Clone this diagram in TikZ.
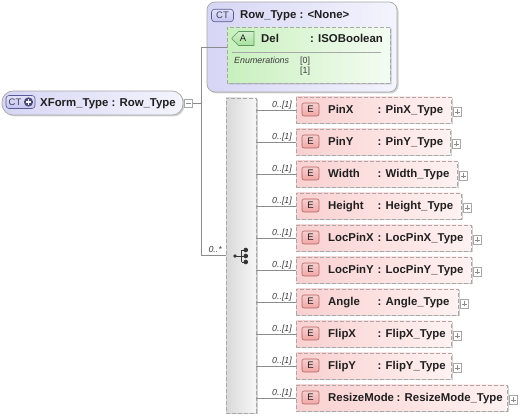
\documentclass[tikz,border=0pt]{standalone}
\usepackage{fontspec}
\setmainfont{Liberation Sans}
\usetikzlibrary{positioning,calc,shapes.misc,shadows}

\definecolor{linegray}{HTML}{8C8C8C}
\definecolor{boxgray}{HTML}{A8A8A8}
\definecolor{ctleft}{HTML}{D6D6F5}
\definecolor{ctright}{HTML}{F4F4FD}
\definecolor{attrleft}{HTML}{C8F0BE}
\definecolor{attrright}{HTML}{F4FCF2}
\definecolor{elemleft}{HTML}{FAD0D0}
\definecolor{elemright}{HTML}{FFF2F2}
\definecolor{ebadgefill}{HTML}{F0A6A6}
\definecolor{ebadgeline}{HTML}{B46464}
\definecolor{abadgefill}{HTML}{A6E09C}
\definecolor{abadgeline}{HTML}{5E985E}
\definecolor{ctbadgefill}{HTML}{C4C4EE}
\definecolor{ctbadgeline}{HTML}{5A5A96}
\definecolor{seqleft}{HTML}{D9D9D9}
\definecolor{seqright}{HTML}{F7F7F7}
\definecolor{textdark}{HTML}{202020}
\definecolor{multgray}{HTML}{3C3C3C}

\begin{document}
\begin{tikzpicture}[x=1pt,y=-1pt]
	% Configurable lengths
	\def\rowTop{110}
	\def\rowStep{32}
	\def\elemLeft{296}
	\def\forkX{201}

	% Styles
	\tikzstyle{shadowed}=[drop shadow={shadow xshift=1.5pt, shadow yshift=-1.5pt, fill=black, opacity=0.18}]
	\tikzstyle{ctbox}=[draw=boxgray, line width=0.7pt, rounded corners=8pt, left color=ctleft, right color=ctright, shadowed, inner sep=0pt]
	\tikzstyle{attrbox}=[draw=boxgray, dash pattern=on 4pt off 2pt, line width=0.7pt, chamfered rectangle, chamfered rectangle corners={north west, south west}, chamfered rectangle xsep=5pt, left color=attrleft, right color=attrright, shadowed, inner sep=0pt]
	\tikzstyle{elembox}=[draw=boxgray, dash pattern=on 4pt off 2pt, line width=0.7pt, left color=elemleft, right color=elemright, minimum height=26pt, shadowed, inner sep=0pt]
	\tikzstyle{seqbox}=[draw=boxgray, dash pattern=on 4pt off 2pt, line width=0.7pt, left color=seqleft, right color=seqright, shadowed, inner sep=0pt]
	\tikzstyle{ebadge}=[draw=ebadgeline, line width=0.6pt, rounded corners=2pt, top color=ebadgefill!55!white, bottom color=ebadgefill, minimum width=17pt, minimum height=13pt, inner sep=0pt, font={\fontsize{9.5}{11}\selectfont}, text=textdark]
	\tikzstyle{abadge}=[draw=abadgeline, line width=0.6pt, chamfered rectangle, chamfered rectangle corners={north west, south west}, chamfered rectangle xsep=4pt, top color=abadgefill!50!white, bottom color=abadgefill, minimum width=22pt, minimum height=14pt, inner sep=0pt, font={\fontsize{9.5}{11}\selectfont}, text=textdark]
	\tikzstyle{ctbadge}=[draw=ctbadgeline, line width=0.6pt, rounded corners=3pt, top color=ctbadgefill!50!white, bottom color=ctbadgefill, inner sep=0pt, font={\fontsize{9.5}{11}\selectfont}, text=ctbadgeline!70!black]
	\tikzstyle{btext}=[font={\fontsize{11.4}{13}\selectfont\bfseries}, inner sep=0pt, text=textdark]
	\tikzstyle{mult}=[font={\fontsize{8.8}{10}\selectfont\itshape}, inner sep=0pt, text=multgray]
	\tikzstyle{small}=[font={\fontsize{8.9}{10}\selectfont}, inner sep=0pt, text=multgray]
	\tikzstyle{iconbox}=[draw=boxgray, fill=white, line width=0.6pt, minimum size=8.5pt, inner sep=0pt]
	\tikzstyle{conn}=[draw=linegray, line width=0.7pt]

	\useasboundingbox (0,0) rectangle (520,419);

	% Parent type
	\node[ctbox, rounded corners=11pt, minimum width=181pt, minimum height=24pt] (xform) at (92.5,103) {};
	\node[ctbadge, minimum width=29pt, minimum height=13pt] (xformct) at (20.5,102) {};
	\node[anchor=west, inner sep=0pt, font={\fontsize{9.5}{11}\selectfont}, text=ctbadgeline!70!black] (xformctlabel) at (8.5,102) {CT};
	\fill[ctbadgeline!80!black] (28.5,102) circle[radius=4.6pt];
	\draw[white, line width=1.4pt] (25.8,102) -- (31.2,102) (28.5,99.3) -- (28.5,104.7);
	\node[btext, anchor=base west] (xformname) at (40,106.7) {XForm\_Type : Row\_Type};
	\node[iconbox] (minus) at (188.5,103.5) {};
	\draw[linegray, line width=0.6pt] ($(minus)+(-2.5,0)$) -- ($(minus)+(2.5,0)$);

	% Base type with attribute
	\node[ctbox, minimum width=190pt, minimum height=90pt] (rowtype) at (302,47) {};
	\node[ctbadge, minimum width=22pt, minimum height=12.5pt] (rowct) at (222.5,15.5) {CT};
	\node[btext, anchor=base west] (rowname) at (240,18.3) {Row\_Type : <None>};
	\node[attrbox, minimum width=163pt, minimum height=56pt] (attr) at (308.5,55) {};
	\node[abadge] (abadge) at (243,38.5) {A};
	\node[btext, anchor=base west] (attrname) at (261,43) {Del};
	\node[btext, anchor=base west] (attrtype) at (310,43) {: ISOBoolean};
	\draw[boxgray, line width=0.6pt] (232,52.7) -- (381,52.7);
	\node[small, anchor=base west] (enumlabel) at (234,63.3) {\itshape Enumerations};
	\node[small, anchor=base west] (enum0) at (300,63.3) {[0]};
	\node[small, anchor=base west] (enum1) at (300,73.3) {[1]};

	% Sequence
	\node[seqbox, minimum width=30pt, minimum height=315pt] (seq) at (241,255.5) {};
	\begin{scope}[shift={(seq.center)}, multgray!90!black]
		\fill (-6,0.5) circle[radius=1.8pt];
		\draw[line width=0.9pt] (-6,0.5) -- (0.7,0.5) (0.7,-5.5) -- (0.7,6.5);
		\foreach \dy in {-5.5,0.5,6.5} {
			\draw[line width=0.9pt] (0.7,\dy) -- (4.8,\dy);
			\fill (4.8,\dy) circle[radius=2.3pt];
		}
	\end{scope}

	% Connectors from the parent
	\coordinate (fork) at (\forkX,0);
	\draw[conn] (minus.east) -- (minus.east -| fork);
	\draw[conn] (rowtype.west -| fork) -- (attr.west |- rowtype.west);
	\draw[conn] (rowtype.west -| fork) -- (seq.west -| fork) -- (seq.west);
	\node[mult, anchor=base east] (seqmult) at (222,252.5) {0..*};

	% Elements
	\foreach \name/\boxw/\col [count=\i from 0] in {PinX/155/377.5, PinY/154/377.5, Width/161/377.5, Height/165/377.5, LocPinX/175/377.5, LocPinY/175/377.5, Angle/162/377.5, FlipX/155/377.5, FlipY/155/377.5, ResizeMode/211/396.5} {
		\pgfmathsetmacro\rowY{\rowTop+\rowStep*\i}
		\node[elembox, minimum width=\boxw pt, anchor=west] (e\i) at (\elemLeft,\rowY) {};
		\node[ebadge] (badge\i) at (310.5,\rowY-0.5) {E};
		\node[btext, anchor=base west] (name\i) at (328,\rowY+3.3) {\name};
		\node[btext, anchor=base west] (type\i) at (\col,\rowY+3.3) {: \name\_Type};
		\node[iconbox] (plus\i) at ($(e\i.east)+(5.5,2)$) {};
		\draw[linegray, line width=0.6pt] ($(plus\i)+(-2.5,0)$) -- ($(plus\i)+(2.5,0)$) ($(plus\i)+(0,-2.5)$) -- ($(plus\i)+(0,2.5)$);
		\draw[conn] (seq.east |- e\i.west) -- (e\i.west);
		\node[mult, anchor=base east] (mult\i) at ($(e\i.west)+(-4,-2.7)$) {0..[1]};
	}
\end{tikzpicture}
\end{document}
